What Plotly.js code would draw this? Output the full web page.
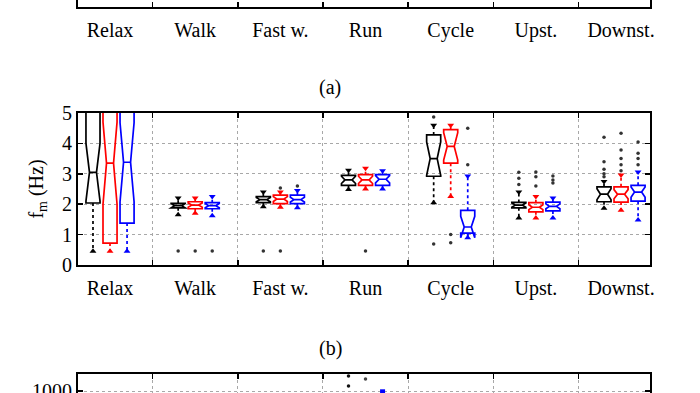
<!DOCTYPE html>
<html><head><meta charset="utf-8">
<script src="https://cdn.plot.ly/plotly-3.0.1.min.js"></script>
<style>html,body{margin:0;padding:0;background:#fff}#chart{width:700px;height:393px}</style>
</head><body><div id="chart"></div><script>
const categories = ['Relax','Walk','Fast w.','Run','Cycle','Upst.','Downst.'];

// Black series (notched box statistics, Hz)
const q1Black     = [2.04, 1.88, 2.05, 2.62, 2.92, 1.88, 2.08];
const medBlack    = [3.05, 1.95, 2.15, 2.80, 3.50, 1.97, 2.33];
const q3Black     = [5.60, 2.03, 2.25, 2.95, 4.28, 2.06, 2.57];
const loBlack     = [0.45, 1.65, 1.92, 2.48, 2.05, 1.55, 1.87];
const hiBlack     = [7.00, 2.20, 2.40, 3.12, 4.60, 2.40, 2.75];
const notchBlack  = [0.95, 0.07, 0.07, 0.12, 0.55, 0.07, 0.18];
const outBlackCat = ['Walk','Fast w.','Cycle','Cycle','Upst.','Upst.','Upst.','Downst.','Downst.','Downst.','Downst.','Downst.'];
const outBlackVal = [0.46, 0.46, 0.69, 4.87, 2.65, 2.85, 3.05, 2.90, 3.00, 3.15, 3.40, 4.20];

// Red series
const q1Red     = [0.72, 1.85, 2.02, 2.62, 3.35, 1.75, 2.07];
const medRed    = [3.35, 1.97, 2.17, 2.80, 3.90, 1.90, 2.33];
const q3Red     = [6.50, 2.08, 2.30, 2.97, 4.45, 2.05, 2.57];
const loRed     = [0.45, 1.70, 1.90, 2.50, 2.25, 1.55, 1.80];
const hiRed     = [8.00, 2.20, 2.40, 3.18, 4.60, 2.25, 2.96];
const notchRed  = [1.35, 0.07, 0.08, 0.12, 0.45, 0.08, 0.15];
const outRedCat = ['Walk','Fast w.','Fast w.','Run','Cycle','Cycle','Upst.','Upst.','Upst.','Downst.','Downst.','Downst.','Downst.','Downst.'];
const outRedVal = [0.46, 0.46, 2.53, 0.46, 1.00, 0.73, 2.60, 2.90, 3.06, 3.10, 3.30, 3.50, 3.78, 4.33];

// Blue series
const q1Blue     = [1.38, 1.85, 2.02, 2.62, 1.05, 1.78, 2.10];
const medBlue    = [3.38, 1.95, 2.15, 2.82, 1.25, 1.93, 2.40];
const q3Blue     = [6.30, 2.05, 2.30, 2.97, 1.80, 2.07, 2.62];
const loBlue     = [0.45, 1.62, 1.88, 2.50, 0.90, 1.55, 1.48];
const hiBlue     = [8.00, 2.25, 2.45, 3.10, 2.93, 2.20, 3.06];
const notchBlue  = [1.30, 0.07, 0.08, 0.12, 0.35, 0.08, 0.17];
const outBlueCat = ['Walk','Fast w.','Cycle','Cycle','Upst.','Upst.','Upst.','Downst.','Downst.','Downst.','Downst.'];
const outBlueVal = [0.46, 2.60, 3.30, 4.50, 2.70, 2.80, 2.93, 3.30, 3.50, 3.68, 4.05];

// Panel (c), partially visible top strip (Run column)
const cBlackVal = [1050, 1150];
const cRedVal   = [1120];
const cBlueVal  = [992];
const cTicks    = [1000];

const series = [
  {color:'#000000', off:-0.2, q1:q1Black, med:medBlack, q3:q3Black, lo:loBlack, hi:hiBlack, notch:notchBlack, oc:outBlackCat, ov:outBlackVal},
  {color:'#ff0000', off: 0.0, q1:q1Red,   med:medRed,   q3:q3Red,   lo:loRed,   hi:hiRed,   notch:notchRed,   oc:outRedCat,   ov:outRedVal},
  {color:'#0000ff', off: 0.2, q1:q1Blue,  med:medBlue,  q3:q3Blue,  lo:loBlue,  hi:hiBlue,  notch:notchBlue,  oc:outBlueCat,  ov:outBlueVal}
];

const idx = categories.map((c,i)=>i);
const traces = [];
series.forEach(s=>{
  const xs = idx.map(i=>i+s.off);
  traces.push({type:'box', xaxis:'x', yaxis:'y', x:xs, q1:s.q1, median:s.med, q3:s.q3,
    lowerfence:s.q1, upperfence:s.q3, notched:true, notchspan:s.notch, notchwidth:0.25,
    width:0.165, whiskerwidth:0, fillcolor:'rgba(0,0,0,0)', line:{color:s.color, width:1.7},
    boxpoints:false, hoverinfo:'skip'});
  const wx=[], wy=[];
  idx.forEach(i=>{ wx.push(xs[i],xs[i],null,xs[i],xs[i],null); wy.push(s.q1[i],s.lo[i],null,s.q3[i],s.hi[i],null); });
  traces.push({type:'scatter', mode:'lines', xaxis:'x', yaxis:'y', x:wx, y:wy,
    line:{color:s.color, width:1.7, dash:'dot'}, hoverinfo:'skip'});
  traces.push({type:'scatter', mode:'markers', xaxis:'x', yaxis:'y', x:xs, y:s.lo,
    marker:{symbol:'triangle-up', size:6, color:s.color}, hoverinfo:'skip'});
  traces.push({type:'scatter', mode:'markers', xaxis:'x', yaxis:'y', x:xs, y:s.hi,
    marker:{symbol:'triangle-down', size:6, color:s.color}, hoverinfo:'skip'});
  traces.push({type:'scatter', mode:'markers', xaxis:'x', yaxis:'y',
    x:s.oc.map(c=>categories.indexOf(c)+s.off), y:s.ov,
    marker:{symbol:'circle', size:3.5, color:'#333'}, hoverinfo:'skip'});
});
// panel (c) marks
const runIdx = categories.indexOf('Run');
traces.push({type:'scatter', mode:'markers', xaxis:'x5', yaxis:'y5', x:cBlackVal.map(()=>runIdx-0.2), y:cBlackVal, marker:{size:3.5,color:'#111'}, cliponaxis:true});
traces.push({type:'scatter', mode:'markers', xaxis:'x5', yaxis:'y5', x:cRedVal.map(()=>runIdx), y:cRedVal, marker:{size:3.5,color:'#444'}, cliponaxis:true});
traces.push({type:'scatter', mode:'markers', xaxis:'x5', yaxis:'y5', x:cBlueVal.map(()=>runIdx+0.2), y:cBlueVal, marker:{size:5,symbol:'square',color:'#0000ff'}, cliponaxis:true});
// anchor traces for label axes
traces.push({type:'scatter', mode:'markers', xaxis:'x2', yaxis:'y', x:[0], y:[-10], marker:{opacity:0}, hoverinfo:'skip'});
traces.push({type:'scatter', mode:'markers', xaxis:'x3', yaxis:'y3', x:[0], y:[-10], marker:{opacity:0}, hoverinfo:'skip'});
traces.push({type:'scatter', mode:'markers', xaxis:'x4', yaxis:'y3', x:[0], y:[-10], marker:{opacity:0}, hoverinfo:'skip'});

const FONT = {family:'"Liberation Serif", "Times New Roman", serif', size:20, color:'#000'};
const xr = [-0.376, 6.34];
const boundaries = idx.slice(0,-1).map(i=>i+0.5);
const dom = [78/700, 650/700];
const frame = {showline:true, linewidth:2, linecolor:'#000', zeroline:false};
const grid = {showgrid:true, gridcolor:'#a8a8a8', griddash:'dot', gridwidth:1};

const layout = {
  width:700, height:393, margin:{l:0,r:0,t:0,b:0},
  paper_bgcolor:'#fff', plot_bgcolor:'#fff', showlegend:false, font:FONT,
  xaxis: Object.assign({domain:dom, anchor:'y', range:xr, tickmode:'array', tickvals:boundaries,
    showticklabels:false, ticks:'inside', ticklen:5, tickwidth:1.5, tickcolor:'#000', mirror:'ticks'}, frame, grid),
  xaxis2: {overlaying:'x', anchor:'y', range:xr, tickmode:'array', tickvals:idx, ticktext:categories,
    ticks:'', showgrid:false, showline:false, zeroline:false, ticklabelstandoff:9, side:'bottom'},
  yaxis: Object.assign({domain:[(393-265)/393, (393-113)/393], anchor:'x', range:[0,5], tickmode:'array',
    tickvals:[0,1,2,3,4,5], ticks:'inside', ticklen:5, tickwidth:1.5, tickcolor:'#000', mirror:'ticks',
    title:{text:'f<sub>m</sub> (Hz)', standoff:13, font:FONT}}, frame, grid),
  xaxis3: Object.assign({domain:dom, anchor:'y3', range:xr, tickmode:'array', tickvals:boundaries,
    showticklabels:false, ticks:'inside', ticklen:5, tickwidth:1.5, tickcolor:'#000', showgrid:false, mirror:false}, frame),
  xaxis4: {overlaying:'x3', anchor:'y3', range:xr, tickmode:'array', tickvals:idx, ticktext:categories,
    ticks:'', showgrid:false, showline:false, zeroline:false, ticklabelstandoff:9, side:'bottom'},
  yaxis3: Object.assign({domain:[(393-7)/393, 1], anchor:'x3', range:[0,1], showticklabels:false, ticks:'',
    showgrid:false, mirror:true}, frame),
  xaxis5: Object.assign({domain:dom, anchor:'y5', side:'top', range:xr, tickmode:'array', tickvals:boundaries,
    showticklabels:false, ticks:'inside', ticklen:5, tickwidth:1.5, tickcolor:'#000', mirror:false}, frame, grid),
  yaxis5: Object.assign({domain:[0, (393-374)/393], anchor:'x5', range:[980,1170], tickmode:'array',
    tickvals:cTicks, ticktext:cTicks.map(String), ticks:'inside', ticklen:5, tickwidth:1.5, tickcolor:'#000',
    mirror:'ticks', ticklabeloverflow:'allow'}, frame, grid),
  annotations:[
    {xref:'paper', yref:'paper', x:330/700, y:(393-87)/393, text:'(a)', showarrow:false, font:FONT, xanchor:'center', yanchor:'middle'},
    {xref:'paper', yref:'paper', x:330/700, y:(393-348)/393, text:'(b)', showarrow:false, font:FONT, xanchor:'center', yanchor:'middle'}
  ]
};
Plotly.newPlot('chart', traces, layout, {staticPlot:true, displayModeBar:false});
</script></body></html>
